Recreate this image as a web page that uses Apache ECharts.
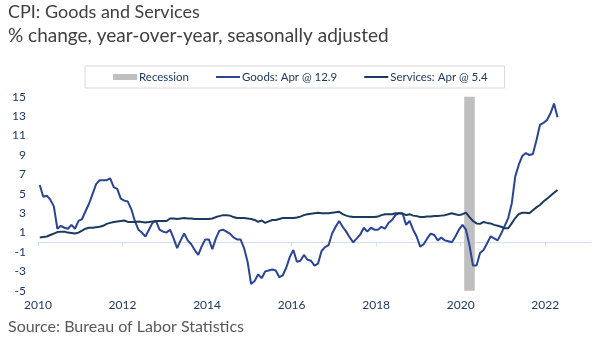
<!DOCTYPE html>
<html>
<head>
<meta charset="utf-8">
<script src="https://cdn.jsdelivr.net/npm/echarts@6/dist/echarts.min.js"></script>
<style>
  html, body { margin: 0; padding: 0; background: #ffffff; }
  #chart { width: 602px; height: 340px; }
</style>
</head>
<body>
<div id="chart"></div>
<script>
// Monthly year-over-year % change, Jan 2010 through Apr 2022
const startYear = 2010;
const lastMonthLabel = 'Apr';

const goods = [
  5.9, 4.7, 4.8, 4.4, 3.7, 1.4, 1.7, 1.5, 1.4, 1.8,
  1.4, 2.2, 2.4, 3.2, 4.0, 5.0, 6.0, 6.4, 6.4, 6.4,
  6.6, 5.7, 5.5, 4.5, 4.3, 4.2, 3.4, 2.2, 1.3, 1.0,
  0.6, 1.3, 2.0, 2.2, 1.3, 1.1, 1.0, 1.3, 0.4, -0.6,
  0.2, 0.9, 0.2, -0.2, -0.8, -1.3, -0.4, 0.3, 0.3, -0.7,
  0.4, 1.2, 1.3, 1.1, 0.9, 0.5, 0.3, 0.3, -0.6, -2.0,
  -4.3, -4.0, -3.3, -3.7, -3.0, -2.9, -2.8, -2.9, -3.6, -3.4,
  -2.6, -1.5, -0.8, -2.0, -1.9, -1.3, -1.8, -1.9, -2.4, -2.2,
  -0.9, -0.5, -0.3, 0.9, 1.6, 2.2, 1.6, 1.1, 0.5, 0.0,
  0.4, 0.8, 1.5, 1.1, 1.5, 1.3, 1.3, 1.6, 1.4, 2.0,
  2.3, 2.8, 3.0, 3.0, 1.8, 2.2, 1.3, 0.6, -0.45, -0.2,
  0.4, 0.9, 0.75, 0.2, 0.5, 0.2, 0.1, 0.0, 0.6, 1.3,
  1.8, 1.3, -0.3, -2.4, -2.4, -1.1, -0.8, -0.1, 0.6, 0.4,
  0.2, 0.9, 1.7, 2.5, 4.0, 6.8, 8.0, 8.9, 9.2, 9.0,
  9.1, 10.5, 12.1, 12.3, 12.6, 13.3, 14.3, 12.9
];

const services = [
  0.5, 0.55, 0.6, 0.75, 0.9, 1.05, 1.1, 1.1, 1.0, 0.95,
  0.9, 1.0, 1.2, 1.4, 1.5, 1.5, 1.55, 1.6, 1.7, 1.9,
  2.0, 2.1, 2.15, 2.2, 2.25, 2.1, 2.1, 2.1, 2.15, 2.1,
  2.05, 2.1, 2.15, 2.2, 2.2, 2.2, 2.2, 2.45, 2.45, 2.4,
  2.45, 2.5, 2.45, 2.45, 2.4, 2.4, 2.4, 2.4, 2.4, 2.45,
  2.6, 2.7, 2.8, 2.8, 2.75, 2.6, 2.5, 2.5, 2.5, 2.45,
  2.4, 2.3, 2.1, 2.25, 2.0, 2.15, 2.3, 2.3, 2.4, 2.5,
  2.5, 2.5, 2.5, 2.55, 2.65, 2.8, 2.9, 2.95, 3.0, 3.05,
  3.0, 3.0, 3.0, 3.05, 3.1, 3.15, 2.9, 2.75, 2.65, 2.6,
  2.6, 2.6, 2.6, 2.6, 2.6, 2.6, 2.65, 2.8, 2.9, 2.9,
  2.9, 3.0, 3.0, 2.95, 2.8, 2.9, 2.75, 2.7, 2.6, 2.6,
  2.65, 2.65, 2.7, 2.7, 2.75, 2.8, 2.9, 3.0, 2.9, 2.8,
  2.9, 3.05, 2.6, 2.2, 1.95, 1.9, 2.1, 2.0, 1.95, 1.8,
  1.7, 1.6, 1.45, 1.45, 1.95, 2.5, 2.9, 3.05, 3.05, 3.0,
  3.3, 3.6, 3.85, 4.2, 4.5, 4.8, 5.1, 5.4
];

// NBER recession, first and last month
const recession = ['2020-02', '2020-04'];

const yearTicks = [2010, 2012, 2014, 2016, 2018, 2020, 2022];
const yTicks = [-5, -3, -1, 1, 3, 5, 7, 9, 11, 13, 15];

// each monthly value sits in the middle of its month on a decimal-year axis
const toPairs = arr => arr.map((v, i) => [startYear + (i + 0.5) / 12, v]);
const monthStart = s => { const [y, m] = s.split('-').map(Number); return y + (m - 1) / 12; };
const monthEnd = s => { const [y, m] = s.split('-').map(Number); return y + m / 12; };

const goodsName = 'Goods: ' + lastMonthLabel + ' @ ' + goods[goods.length - 1];
const servicesName = 'Services: ' + lastMonthLabel + ' @ ' + services[services.length - 1];

const FONT = 'Lato, "Noto Sans", sans-serif';
const NAVY = '#1f3864';
const AXIS_BLUE = '#cfe1f3';
const GOODS_COLOR = '#2b4494';
const SERVICES_COLOR = '#1b3a5e';
const xMin = 2010, xMax = 2010 + 157 / 12;
// thin horizontal bar used as the legend marker for the two lines
const LINE_ICON = 'path://M0,0 L24,0 L24,2 L0,2 Z';

const chart = echarts.init(document.getElementById('chart'), null, { renderer: 'canvas' });
chart.setOption({
  animation: false,
  backgroundColor: '#ffffff',
  textStyle: { fontFamily: FONT },
  graphic: [
    { type: 'text', left: 8, top: 3,
      style: { text: 'CPI: Goods and Services', fontSize: 18, fontFamily: FONT, fill: '#404040' } },
    { type: 'text', left: 8, top: 26,
      style: { text: '% change, year-over-year, seasonally adjusted', fontSize: 19, fontFamily: FONT, fill: '#404040' } },
    { type: 'text', left: 8, top: 319,
      style: { text: 'Source: Bureau of Labor Statistics', fontSize: 16, fontFamily: FONT, fill: '#595959' } }
  ],
  legend: {
    left: 85, top: 66,
    padding: [5, 17, 5, 28],
    borderColor: '#d9d9d9', borderWidth: 1,
    itemGap: 27, itemWidth: 24, itemHeight: 6,
    symbolKeepAspect: true,
    textStyle: { fontSize: 11.5, color: NAVY, fontFamily: FONT, padding: [0, 0, 0, -3] },
    data: [
      { name: 'Recession', icon: 'rect' },
      { name: goodsName, icon: LINE_ICON },
      { name: servicesName, icon: LINE_ICON }
    ]
  },
  grid: { left: 38, right: 11, top: 96.8, height: 194, containLabel: false },
  xAxis: [
    { type: 'value', min: xMin, max: xMax, position: 'bottom',
      axisLine: { show: false, onZero: false },
      axisTick: { show: false },
      splitLine: { show: false },
      axisLabel: { customValues: yearTicks, margin: 8, fontSize: 12, color: NAVY, fontFamily: FONT,
        formatter: v => String(Math.round(v)) } },
    { type: 'value', min: xMin, max: xMax, position: 'bottom',
      axisLine: { show: true, onZero: true, lineStyle: { color: AXIS_BLUE, width: 1 } },
      axisTick: { show: true, customValues: yearTicks, length: 4, lineStyle: { color: AXIS_BLUE } },
      axisLabel: { show: false },
      splitLine: { show: false } }
  ],
  yAxis: {
    type: 'value', min: -5, max: 15, interval: 2,
    axisLine: { show: false }, axisTick: { show: false }, splitLine: { show: false },
    axisLabel: { margin: 12, fontSize: 12, color: NAVY, fontFamily: FONT,
      customValues: yTicks }
  },
  series: [
    { name: 'Recession', type: 'line', data: [], color: '#bfbfbf', silent: true,
      itemStyle: { color: '#bfbfbf' },
      markArea: { silent: true, itemStyle: { color: '#bfbfbf', opacity: 1 },
        data: [[{ xAxis: monthStart(recession[0]) }, { xAxis: monthEnd(recession[1]) }]] } },
    { name: goodsName, type: 'line', data: toPairs(goods), showSymbol: false, symbol: 'none',
      color: GOODS_COLOR, itemStyle: { color: GOODS_COLOR }, lineStyle: { width: 2, color: GOODS_COLOR } },
    { name: servicesName, type: 'line', data: toPairs(services), showSymbol: false, symbol: 'none',
      color: SERVICES_COLOR, itemStyle: { color: SERVICES_COLOR }, lineStyle: { width: 2, color: SERVICES_COLOR } }
  ]
});
</script>
</body>
</html>
